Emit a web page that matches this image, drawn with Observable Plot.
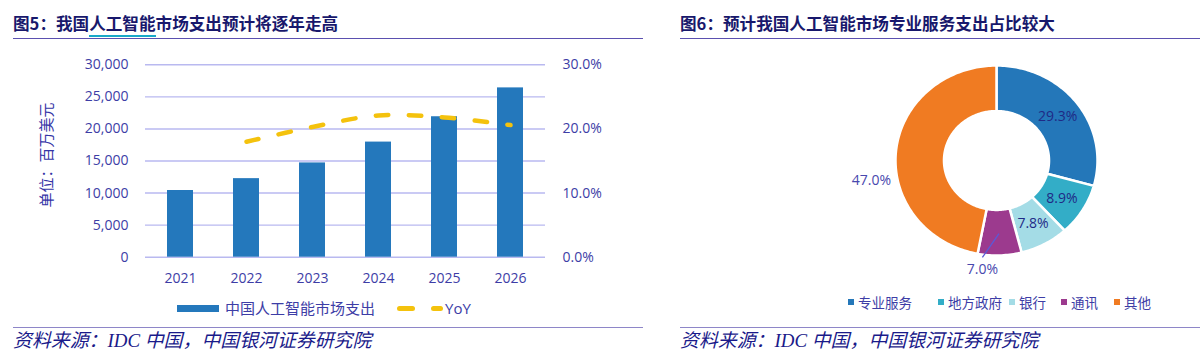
<!DOCTYPE html>
<html><head><meta charset="utf-8">
<script src="https://cdn.jsdelivr.net/npm/d3@7"></script>
<script src="https://cdn.jsdelivr.net/npm/@observablehq/plot@0.6"></script>
<style>
body{margin:0;background:#fff;width:1200px;height:355px;position:relative;overflow:hidden;font-family:"Noto Sans CJK SC",sans-serif;}
.abs{position:absolute;}
.title{font-weight:bold;font-size:16.6px;color:#18186c;top:10.5px;line-height:24px;white-space:nowrap;}
.rule{height:0;border-top:1.6px solid #5b50b0;}
.rule2{height:0;border-top:1.6px solid #8e86c8;}
.src{font-family:"Liberation Serif","Noto Sans CJK SC",serif;font-style:italic;font-size:18.9px;color:#1a1a8a;top:329px;white-space:nowrap;line-height:24px;}
.lg{font-family:"Noto Sans CJK SC",sans-serif;color:#3d3da6;white-space:nowrap;}
</style></head><body>
<script>
// ---------- data ----------
const years = ["2021", "2022", "2023", "2024", "2025", "2026"];
const spending = [10400, 12250, 14700, 17950, 21900, 26400];
const yoy = [null, 18.0, 20.3, 22.1, 21.8, 20.6];
const spendTicks = [0, 5000, 10000, 15000, 20000, 25000, 30000];
const pctTicks = [0, 10, 20, 30];
const barLabel = "中国人工智能市场支出";
const lineLabel = "YoY";
const yLabel = "单位：百万美元";

const segments = ["专业服务", "地方政府", "银行", "通讯", "其他"];
const shares = [29.3, 8.9, 7.8, 7.0, 47.0];
const segColors = ["#2477b9", "#33adc7", "#a4dce6", "#9c3a8e", "#f07b22"];

const title1 = ["图5：我国", "人工智能", "市场支出预计将逐年走高"];
const title2 = "图6：预计我国人工智能市场专业服务支出占比较大";
const source = "资料来源：IDC 中国，中国银河证券研究院";

// ---------- page furniture ----------
function el(html, cls, style) {
  const d = document.createElement("div");
  d.className = "abs " + (cls || "");
  d.innerHTML = html;
  Object.assign(d.style, style || {});
  document.body.appendChild(d);
  return d;
}
el(title1[0] + '<span style="border-bottom:2px solid #19a9c9">' + title1[1] + '</span>' + title1[2], "title", {left: "13px"});
el(title2, "title", {left: "680px"});
el("", "rule", {left: "13px", top: "37.5px", width: "630px"});
el("", "rule", {left: "680px", top: "37.5px", width: "520px"});
el("", "rule2", {left: "13px", top: "327px", width: "630px"});
el("", "rule2", {left: "680px", top: "327px", width: "520px"});
el(source, "src", {left: "13px"});
el(source, "src", {left: "680px"});

// ---------- left: bar + line ----------
const rows = years.map((y, i) => ({year: y, spend: spending[i], yoy: yoy[i]}));
const lineRows = rows.filter(d => d.yoy != null);
const axisColor = "#3d3da6";

const left = Plot.plot({
  width: 630, height: 250,
  marginTop: 19.3, marginBottom: 38.3, marginLeft: 145, marginRight: 85,
  style: {fontFamily: "'Open Sans', sans-serif", fontSize: "14px", color: axisColor, background: "transparent"},
  x: {type: "band", domain: years, paddingInner: 0.6, paddingOuter: 0.3, label: null},
  y: {domain: [0, 30000], label: null},
  marks: [
    Plot.gridY(spendTicks, {stroke: "#b9b9f0", strokeOpacity: 1, strokeWidth: 1.4}),
    Plot.barY(rows, {x: "year", y: "spend", fill: "#2478bc"}),
    Plot.line(lineRows, {x: "year", y: d => d.yoy * 1000, stroke: "#f4c20d", strokeWidth: 4.5,
      strokeDasharray: "12.5,20.5", strokeLinecap: "round", curve: "catmull-rom"}),
    Plot.axisY({ticks: spendTicks, tickFormat: d3.format(","), tickSize: 0, tickPadding: 17, label: null}),
    Plot.axisY({anchor: "right", ticks: pctTicks.map(p => p * 1000), tickFormat: d => (d / 1000).toFixed(1) + "%",
      tickSize: 0, tickPadding: 17, label: null}),
    Plot.axisX({tickSize: 0, tickPadding: 16, label: null})
  ]
});
left.style.position = "absolute"; left.style.left = "0px"; left.style.top = "45px";
document.body.appendChild(left);

el(yLabel, "lg", {left: "45px", top: "155px", fontSize: "15px", transform: "translate(-50%,-50%) rotate(-90deg)", color: "#3535a6"});

// left legend
el("", "", {left: "177px", top: "304.5px", width: "42px", height: "7px", background: "#2478bc"});
el(barLabel, "lg", {left: "225px", top: "298px", fontSize: "15px", lineHeight: "20px"});
el("", "", {left: "397px", top: "306px", width: "18px", height: "4.5px", background: "#f4c20d", borderRadius: "3px"});
el("", "", {left: "431px", top: "306px", width: "12px", height: "4.5px", background: "#f4c20d", borderRadius: "3px"});
el(lineLabel, "lg", {left: "445px", top: "298px", fontSize: "15px", lineHeight: "20px", fontFamily: "'Open Sans',sans-serif"});

// ---------- right: donut ----------
const total = d3.sum(shares);
let acc = 0;
const slices = segments.map((s, i) => {
  const a0 = acc / total * 2 * Math.PI; acc += shares[i];
  const a1 = acc / total * 2 * Math.PI;
  return {seg: s, value: shares[i], a0, a1, mid: (a0 + a1) / 2};
});
const R = 1, r0 = 0.52;
const pts = [];
for (const s of slices) {
  const n = Math.max(4, Math.ceil((s.a1 - s.a0) / 0.02));
  for (let k = 0; k <= n; k++) { const a = s.a0 + (s.a1 - s.a0) * k / n; pts.push({seg: s.seg, x: Math.sin(a) * R, y: Math.cos(a) * R}); }
  for (let k = n; k >= 0; k--) { const a = s.a0 + (s.a1 - s.a0) * k / n; pts.push({seg: s.seg, x: Math.sin(a) * r0, y: Math.cos(a) * r0}); }
}
// label placement (angle in degrees clockwise from top, radius relative to outer)
const deg = Math.PI / 180;
const labelPlace = [null, null, null, {a: 186.9, r: 1.155}, {a: 260.4, r: 1.256}];
const labels = slices.map((s, i) => {
  const p = labelPlace[i];
  const a = p ? p.a * deg : s.mid, rr = p ? p.r : 0.76;
  return {x: Math.sin(a) * rr, y: Math.cos(a) * rr, text: s.value.toFixed(1) + "%", inside: !p};
});
const leader = [{x1: Math.sin(slices[3].mid) * 0.77, y1: Math.cos(slices[3].mid) * 0.77,
                 x2: Math.sin(187.8 * deg) * 1.03, y2: Math.cos(187.8 * deg) * 1.03}];

const W = 280, H = 230, cx = 156, cy = 110, rx = 101, ry = 95;
const donut = Plot.plot({
  width: W, height: H, margin: 0,
  style: {fontFamily: "'Open Sans', sans-serif", fontSize: "14px", background: "transparent"},
  x: {domain: [-cx / rx, (W - cx) / rx], axis: null},
  y: {domain: [-(H - cy) / ry, cy / ry], axis: null},
  color: {domain: segments, range: segColors},
  marks: [
    Plot.line(pts, {x: "x", y: "y", z: "seg", fill: "seg", stroke: "white", strokeWidth: 2.5, curve: "linear-closed"}),
    Plot.link(leader, {x1: "x1", y1: "y1", x2: "x2", y2: "y2", stroke: "#5a5ad8", strokeWidth: 1.3}),
    Plot.text(labels, {x: "x", y: "y", text: "text", fill: d => d.inside ? "#1f2a86" : "#4848ae"})
  ]
});
donut.style.position = "absolute"; donut.style.left = "840px"; donut.style.top = "50px";
document.body.appendChild(donut);

// right legend
const sqX = [848, 938, 1009, 1061, 1114];
segments.forEach((s, i) => {
  el("", "", {left: sqX[i] + "px", top: "299px", width: "6px", height: "6px", background: segColors[i]});
  el(s, "lg", {left: (sqX[i] + 10) + "px", top: "292px", fontSize: "13.5px", lineHeight: "20px"});
});
</script>
</body></html>
